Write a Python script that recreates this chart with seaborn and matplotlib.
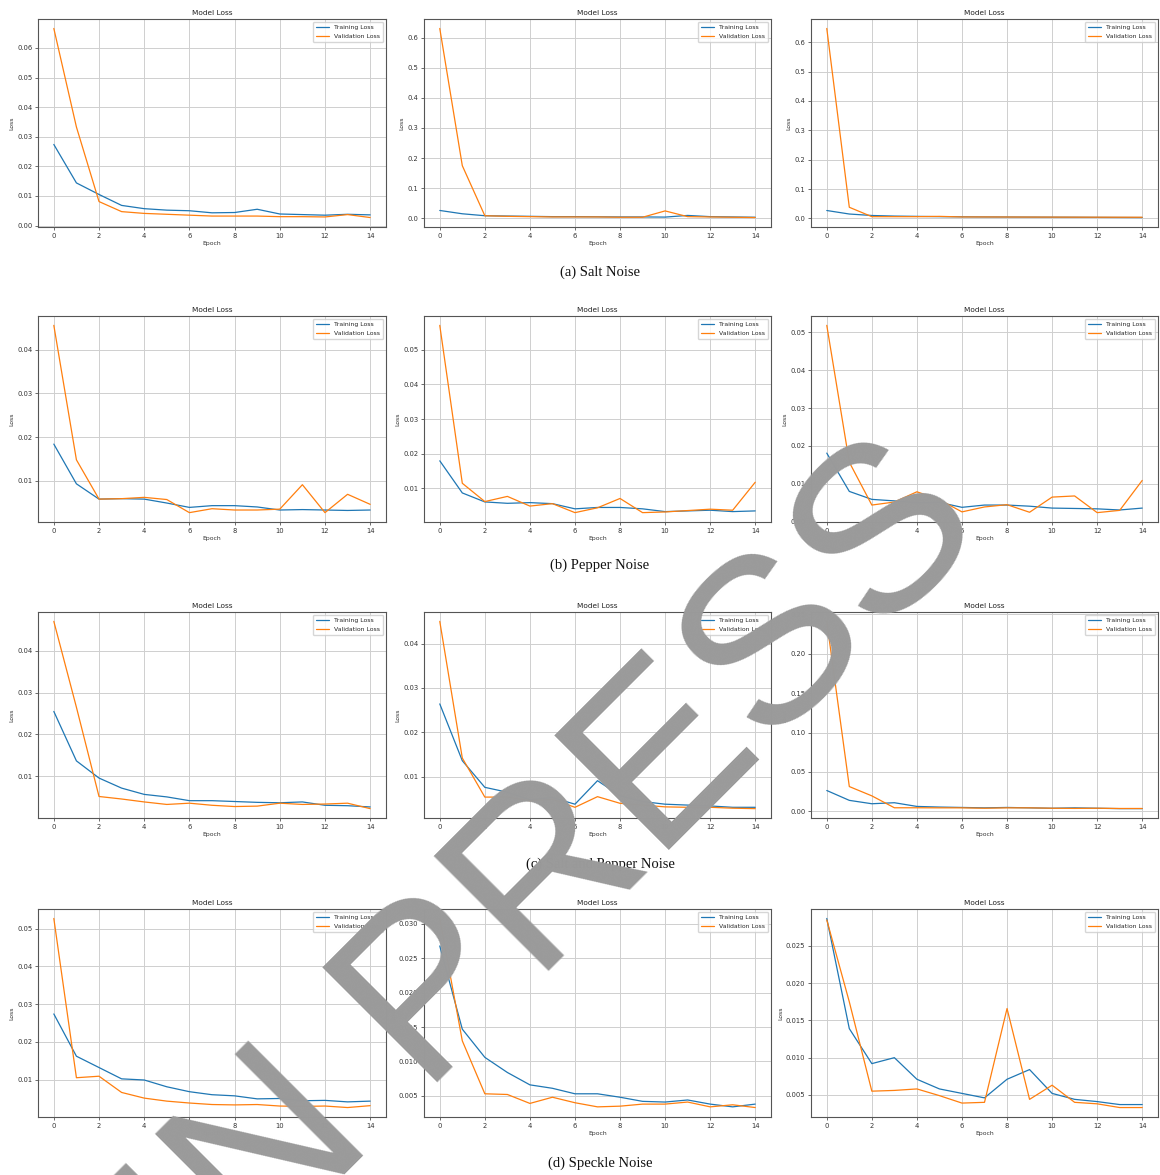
import matplotlib
matplotlib.use("Agg")
import matplotlib.pyplot as plt
from matplotlib.ticker import MultipleLocator
import pandas as pd
import seaborn as sns

# ---- data ----
epochs = [0, 1, 2, 3, 4, 5, 6, 7, 8, 9, 10, 11, 12, 13, 14]
series_names = ["Training Loss", "Validation Loss"]
captions = ["(a) Salt Noise", "(b) Pepper Noise",
            "(c) Salt and Pepper Noise", "(d) Speckle Noise"]

salt_1_train = [0.0274, 0.0144, 0.0105, 0.0068, 0.0057, 0.0052, 0.0050, 0.0043,
                0.0044, 0.0055, 0.0039, 0.0037, 0.0035, 0.0038, 0.0036]
salt_1_val = [0.0666, 0.0333, 0.0081, 0.0047, 0.0041, 0.0038, 0.0035, 0.0032,
              0.0032, 0.0032, 0.0030, 0.0030, 0.0029, 0.0037, 0.0027]
salt_2_train = [0.0265, 0.0155, 0.0090, 0.0080, 0.0070, 0.0060, 0.0060, 0.0055,
                0.0050, 0.0050, 0.0045, 0.0100, 0.0060, 0.0050, 0.0040]
salt_2_val = [0.630, 0.175, 0.0090, 0.0070, 0.0060, 0.0050, 0.0050, 0.0050,
              0.0040, 0.0040, 0.0250, 0.0060, 0.0050, 0.0040, 0.0030]
salt_3_train = [0.0270, 0.0150, 0.0100, 0.0080, 0.0070, 0.0060, 0.0055, 0.0050,
                0.0048, 0.0045, 0.0042, 0.0040, 0.0036, 0.0033, 0.0030]
salt_3_val = [0.647, 0.0380, 0.0060, 0.0060, 0.0060, 0.0070, 0.0050, 0.0050,
              0.0048, 0.0046, 0.0045, 0.0043, 0.0042, 0.0041, 0.0040]

pepper_1_train = [0.0184, 0.0093, 0.0058, 0.0059, 0.0058, 0.0049, 0.0039, 0.0043,
                  0.0043, 0.0040, 0.0033, 0.0034, 0.0033, 0.0032, 0.0033]
pepper_1_val = [0.0456, 0.0148, 0.0058, 0.0059, 0.0062, 0.0057, 0.0027, 0.0036,
                0.0033, 0.0033, 0.0035, 0.0091, 0.0027, 0.0069, 0.0046]
pepper_2_train = [0.0179, 0.0086, 0.0060, 0.0056, 0.0058, 0.0055, 0.0040, 0.0044,
                  0.0044, 0.0040, 0.0032, 0.0034, 0.0036, 0.0032, 0.0034]
pepper_2_val = [0.0571, 0.0114, 0.0061, 0.0076, 0.0048, 0.0055, 0.0029, 0.0043,
                0.0070, 0.0029, 0.0031, 0.0035, 0.0039, 0.0036, 0.0117]
pepper_3_train = [0.0181, 0.0080, 0.0059, 0.0055, 0.0050, 0.0051, 0.0038, 0.0044,
                  0.0044, 0.0041, 0.0036, 0.0035, 0.0034, 0.0031, 0.0036]
pepper_3_val = [0.0518, 0.0157, 0.0044, 0.0052, 0.0079, 0.0058, 0.0026, 0.0039,
                0.0045, 0.0025, 0.0065, 0.0068, 0.0024, 0.0030, 0.0109]

sp_1_train = [0.0255, 0.0137, 0.0096, 0.0072, 0.0057, 0.0051, 0.0042, 0.0042,
              0.0040, 0.0038, 0.0037, 0.0039, 0.0031, 0.0030, 0.0027]
sp_1_val = [0.0470, 0.0265, 0.0052, 0.0046, 0.0039, 0.0033, 0.0036, 0.0031,
            0.0028, 0.0029, 0.0036, 0.0033, 0.0034, 0.0036, 0.0023]
sp_2_train = [0.0264, 0.0136, 0.0076, 0.0065, 0.0048, 0.0053, 0.0038, 0.0091,
              0.0057, 0.0044, 0.0038, 0.0036, 0.0034, 0.0031, 0.0031]
sp_2_val = [0.0450, 0.0142, 0.0054, 0.0054, 0.0046, 0.0049, 0.0031, 0.0055,
            0.0040, 0.0036, 0.0032, 0.0031, 0.0031, 0.0029, 0.0028]
sp_3_train = [0.0265, 0.0140, 0.0097, 0.0110, 0.0063, 0.0055, 0.0050, 0.0045,
              0.0050, 0.0045, 0.0040, 0.0045, 0.0040, 0.0035, 0.0035]
sp_3_val = [0.241, 0.0315, 0.0197, 0.0046, 0.0046, 0.0045, 0.0045, 0.0040,
            0.0045, 0.0045, 0.0040, 0.0038, 0.0040, 0.0037, 0.0037]

speckle_1_train = [0.0274, 0.0162, 0.0132, 0.0102, 0.0099, 0.0081, 0.0068, 0.0060,
                   0.0057, 0.0049, 0.0050, 0.0044, 0.0045, 0.0041, 0.0043]
speckle_1_val = [0.0527, 0.0105, 0.0109, 0.0066, 0.0051, 0.0043, 0.0038, 0.0034,
                 0.0033, 0.0034, 0.0030, 0.0029, 0.0030, 0.0026, 0.0031]
speckle_2_train = [0.0268, 0.0147, 0.0106, 0.0084, 0.0066, 0.0061, 0.0053, 0.0053,
                   0.0048, 0.0042, 0.0041, 0.0044, 0.0038, 0.0034, 0.0038]
speckle_2_val = [0.0308, 0.0130, 0.0053, 0.0052, 0.0039, 0.0048, 0.0040, 0.0034,
                 0.0035, 0.0038, 0.0038, 0.0041, 0.0034, 0.0037, 0.0033]
speckle_3_train = [0.0287, 0.0139, 0.0092, 0.0100, 0.0071, 0.0058, 0.0052, 0.0046,
                   0.0071, 0.0084, 0.0052, 0.0044, 0.0041, 0.0037, 0.0037]
speckle_3_val = [0.0285, 0.0175, 0.0055, 0.0056, 0.0058, 0.0049, 0.0039, 0.0040,
                 0.0166, 0.0044, 0.0063, 0.0040, 0.0038, 0.0033, 0.0033]

panels = [
    (salt_1_train, salt_1_val), (salt_2_train, salt_2_val), (salt_3_train, salt_3_val),
    (pepper_1_train, pepper_1_val), (pepper_2_train, pepper_2_val), (pepper_3_train, pepper_3_val),
    (sp_1_train, sp_1_val), (sp_2_train, sp_2_val), (sp_3_train, sp_3_val),
    (speckle_1_train, speckle_1_val), (speckle_2_train, speckle_2_val), (speckle_3_train, speckle_3_val),
]
y_steps = [0.01, 0.1, 0.1, 0.01, 0.01, 0.01, 0.01, 0.01, 0.05, 0.01, 0.005, 0.005]

# ---- layout (pixels of the 1160x1175 canvas) ----
W, H = 1160, 1175
col_px = [(38, 386), (424, 771), (811, 1158)]
row_px = [(19, 227), (316, 522), (612, 818), (909, 1117)]
caption_y = [272, 565, 864, 1163]

sns.set_theme(style="whitegrid", rc={
    "axes.edgecolor": "#555555",
    "axes.linewidth": 0.8,
    "grid.color": "#cfcfcf",
    "grid.linewidth": 0.7,
    "xtick.bottom": True,
    "ytick.left": True,
    "xtick.major.size": 2,
    "ytick.major.size": 2,
    "xtick.major.width": 0.5,
    "ytick.major.width": 0.5,
    "xtick.major.pad": 2,
    "ytick.major.pad": 2,
})
plt.rcParams["font.family"] = ["DejaVu Sans"]

fig = plt.figure(figsize=(W / 100, H / 100), dpi=100)

for idx, (train, val) in enumerate(panels):
    r, c = divmod(idx, 3)
    left, right = col_px[c]
    top, bottom = row_px[r]
    ax = fig.add_axes([left / W, 1 - bottom / H, (right - left) / W, (bottom - top) / H])

    df = pd.DataFrame({
        "Epoch": epochs + epochs,
        "Loss": train + val,
        "Series": [series_names[0]] * len(epochs) + [series_names[1]] * len(epochs),
    })
    sns.lineplot(data=df, x="Epoch", y="Loss", hue="Series",
                 palette=["#1f77b4", "#ff7f0e"], linewidth=0.9, ax=ax)

    ax.set_title("Model Loss", fontsize=5.3, pad=3, color="#222222")
    ax.set_xlabel("Epoch", fontsize=4.4, labelpad=2, color="#333333")
    ax.set_ylabel("Loss", fontsize=4.4, labelpad=2, color="#333333")
    ax.xaxis.set_major_locator(MultipleLocator(2))
    ax.yaxis.set_major_locator(MultipleLocator(y_steps[idx]))
    ax.tick_params(labelsize=4.9, colors="#333333")
    ax.legend(title=None, loc="upper right", fontsize=4.4,
              frameon=True, borderpad=0.5, handlelength=2.2)

for text, y in zip(captions, caption_y):
    fig.text(600 / W, 1 - y / H, text, ha="center", va="center",
             fontsize=10.5, family="Liberation Serif", color="#111111")

# watermark stamped across the page
fig.text(557 / W, 1 - 876 / H, "IN PRESS", rotation=45, rotation_mode="anchor",
         ha="center", va="center", fontsize=170, family="Liberation Sans",
         color="#9a9a9a", zorder=100)

fig.savefig("out.png", dpi=100)
